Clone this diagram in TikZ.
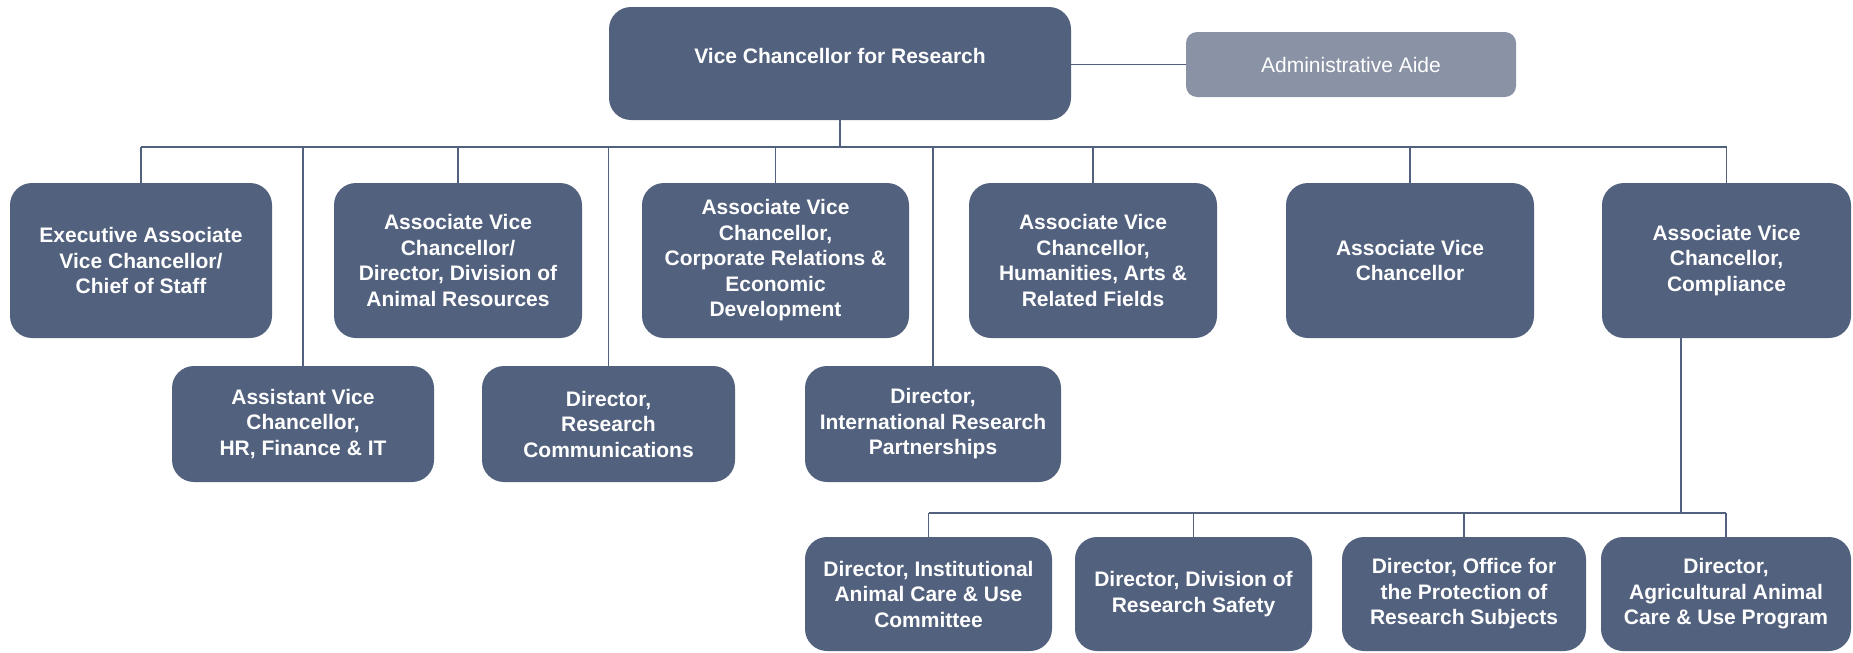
\documentclass[tikz,border=0pt]{standalone}
\usepackage{fontspec}
\setmainfont{Liberation Sans}
\definecolor{boxblue}{HTML}{52617E}
\definecolor{aidegray}{HTML}{8A93A5}
\begin{document}
\begin{tikzpicture}[x=1pt, y=-1pt,
  box/.style={fill=boxblue, text=white, rounded corners=22pt, inner sep=0pt,
    align=center, font=\fontsize{21}{25.5}\selectfont\bfseries},
  aide/.style={fill=aidegray, text=white, rounded corners=11pt, inner sep=0pt,
    align=center, font=\fontsize{21}{25.5}\selectfont},
  link/.style={draw=boxblue, line width=1.5pt}]
\useasboundingbox (0,0) rectangle (1853,653);
\node[box, minimum width=462pt, minimum height=113pt, text height=14pt, text depth=14pt] (vcr) at (840,63.5) {Vice Chancellor for Research};
\node[aide, minimum width=330pt, minimum height=65pt] (aide) at (1351,64.5) {Administrative Aide};
\draw[link] (vcr.east |- aide.west) -- (aide.west);
\begin{scope}[every node/.append style={minimum height=155pt}]
\node[box, minimum width=262pt] (eavc) at (141,260.5) {Executive Associate\\Vice Chancellor/\\Chief of Staff};
\node[box, minimum width=248pt] (avcdar) at (458,260.5) {Associate Vice\\Chancellor/\\Director, Division of\\Animal Resources};
\node[box, minimum width=267pt] (avccorp) at (775.5,260.5) {Associate Vice\\Chancellor,\\Corporate Relations \&\\Economic\\Development};
\node[box, minimum width=248pt] (avchum) at (1093,260.5) {Associate Vice\\Chancellor,\\Humanities, Arts \&\\Related Fields};
\node[box, minimum width=248pt] (avc) at (1410,260.5) {Associate Vice\\Chancellor};
\node[box, minimum width=249pt] (avccomp) at (1726.5,260.5) {Associate Vice\\Chancellor,\\Compliance};
\end{scope}
\begin{scope}[every node/.append style={minimum height=116pt}]
\node[box, minimum width=262pt] (asst) at (303,424) {Assistant Vice\\Chancellor,\\HR, Finance \& IT};
\node[box, minimum width=253pt] (dirrc) at (608.5,424) {Director,\\Research\\Communications};
\node[box, minimum width=256pt] (dirirp) at (933,424) {Director,\\International Research\\Partnerships};
\end{scope}
\begin{scope}[every node/.append style={minimum height=114pt}]
\node[box, minimum width=247pt] (iacuc) at (928.5,594) {Director, Institutional\\Animal Care \& Use\\Committee};
\node[box, minimum width=237pt] (drs) at (1193.5,594) {Director, Division of\\Research Safety};
\node[box, minimum width=244pt] (oprs) at (1464,594) {Director, Office for\\the Protection of\\Research Subjects};
\node[box, minimum width=250pt] (aacup) at (1726,594) {Director,\\Agricultural Animal\\Care \& Use Program};
\end{scope}
\coordinate (bus) at (0,147);
\coordinate (bus2) at (0,513);
\coordinate (cjoin) at (1681,513);
\draw[link] (vcr.south) -- (vcr.south |- bus);
\draw[link] (eavc.north |- bus) -- (avccomp.north |- bus);
\foreach \n in {eavc,asst,avcdar,dirrc,avccorp,dirirp,avchum,avc,avccomp}{
\draw[link] (\n.north) -- (\n.north |- bus);
}
\draw[link] (avccomp.south -| cjoin) -- (cjoin);
\draw[link] (iacuc.north |- bus2) -- (aacup.north |- bus2);
\foreach \n in {iacuc,drs,oprs,aacup}{
\draw[link] (\n.north) -- (\n.north |- bus2);
}
\end{tikzpicture}
\end{document}
